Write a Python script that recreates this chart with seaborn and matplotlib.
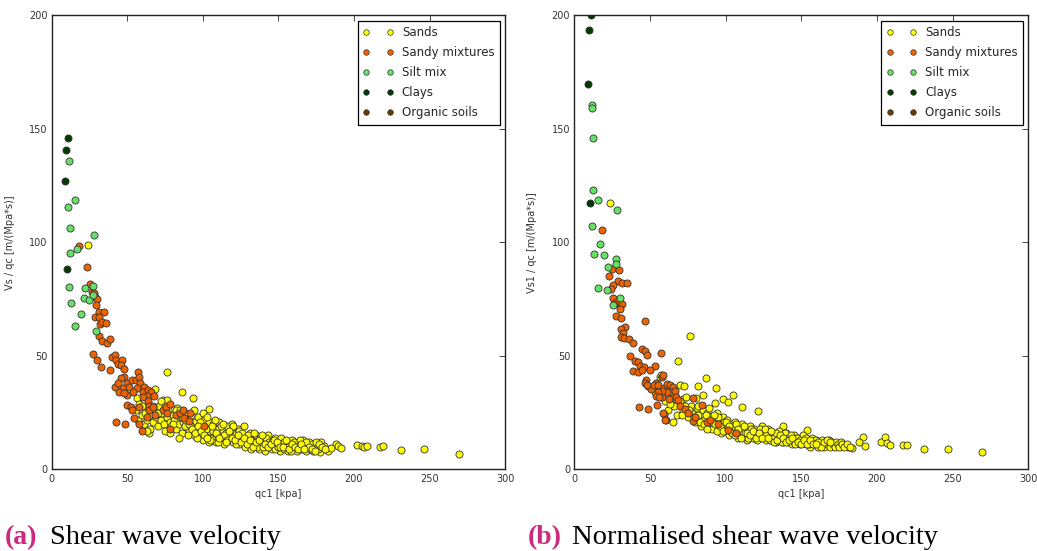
import pandas as pd
import matplotlib.pyplot as plt
import seaborn as sns
from matplotlib.lines import Line2D

# ---- panel (a): Vs / qc ----
a_sands = [(23.8, 98.7), (76, 42.9), (86.5, 34.3), (93.3, 31.4), (104, 26.5), (68.3, 35.3),
           (56.6, 31.4), (64.5, 16), (73.9, 30.7), (76, 30.4),
           (188.3, 11.4), (189.6, 10.4), (191.3, 9.4), (202, 10.7), (205, 10.3), (206.7, 10),
           (208.3, 10.3), (217, 9.7), (219.3, 10.3), (231.1, 8.4), (246.4, 8.8), (269.2, 7),
           (182.8, 8.2), (184.6, 9.6), (178, 12.1), (180, 10.4), (177.7, 7.5),
           (56, 26), (57, 22), (58, 29), (60, 24), (61, 20), (62, 25), (63, 22), (64, 27), (65, 18),
           (66, 24), (67, 21), (68, 26), (69, 23), (70, 19), (71, 28), (72, 22), (73, 25), (74, 20),
           (75, 17), (76, 23), (77, 26), (78, 21), (79, 19), (80, 24), (81, 22), (82, 18), (83, 27),
           (84, 20), (85, 23), (86, 16), (87, 21), (88, 25), (89, 19), (90, 22), (91, 17), (92, 24),
           (93, 20), (94, 15), (95, 21), (96, 18), (97, 23), (98, 16), (99, 20), (100, 13), (100, 18),
           (101, 22), (102, 15), (103, 19), (104, 12), (104, 21), (105, 17), (106, 14), (107, 20),
           (108, 16), (109, 12), (110, 18), (110, 15), (111, 21), (112, 13), (113, 17), (114, 11),
           (115, 16), (116, 19), (117, 13), (118, 15), (119, 20), (120, 12), (121, 16), (122, 14),
           (123, 18), (124, 11), (125, 15), (126, 13), (127, 19), (128, 10), (129, 14), (130, 12),
           (131, 16), (132, 9), (133, 13), (134, 11), (135, 15), (136, 12), (137, 9), (138, 14),
           (139, 11), (140, 13), (141, 8), (142, 12), (143, 15), (144, 10), (145, 13), (146, 9),
           (147, 11), (148, 14), (149, 10), (150, 12), (151, 8), (152, 11), (153, 13), (154, 9),
           (155, 11), (156, 8), (157, 12), (158, 10), (159, 13), (160, 9), (161, 11), (162, 8),
           (163, 12), (164, 10), (165, 9), (166, 13), (167, 11), (168, 8), (169, 10), (170, 12),
           (171, 9), (172, 11), (173, 8), (174, 10), (175, 12), (176, 9), (177, 11), (179, 10),
           (181, 9),
           (60, 28), (63, 17), (67, 28), (70, 25), (72, 30), (75, 28), (78, 16), (80, 20), (82, 26),
           (84, 14), (86, 23), (88, 19), (90, 15), (92, 19), (94, 26), (96, 14), (98, 21), (100, 25),
           (102, 18), (103, 23), (105, 13), (107, 17), (108, 22), (110, 12), (112, 19), (114, 15),
           (116, 13), (118, 17), (120, 19), (122, 11), (124, 17), (126, 16), (128, 13), (130, 15),
           (132, 13), (134, 16), (136, 10), (138, 12), (140, 10), (142, 14), (144, 12), (146, 12),
           (148, 9), (150, 10), (152, 14), (154, 12), (156, 10), (158, 8), (160, 12), (162, 10),
           (164, 13), (166, 10), (168, 12), (170, 10), (172, 9), (174, 8),
           (85, 26), (88, 22), (91, 20), (93, 18), (95, 16), (97, 19), (99, 17), (101, 15), (103, 14),
           (106, 19), (109, 16), (111, 14), (113, 20), (115, 12), (117, 17), (119, 14), (121, 13),
           (123, 15), (125, 12), (127, 14), (129, 11), (131, 13), (133, 10), (135, 12), (137, 13),
           (139, 15), (141, 11), (143, 10), (145, 11), (147, 13), (149, 12), (151, 10), (153, 10),
           (155, 13), (157, 9), (159, 11), (161, 10), (163, 9), (165, 11), (167, 9)]
a_sandy = [(18.2, 98.4), (23.1, 89), (25.5, 81.9), (26.4, 78.2), (27.7, 77.8), (28.8, 76),
           (30.2, 74.9), (29.3, 72.4), (31.1, 69.2), (34.6, 69.2), (28.4, 67), (31.1, 67),
           (31.9, 63.9), (33.3, 65), (35.9, 64.3), (31.1, 58.9), (33.3, 56.4), (36.6, 55.8),
           (38.5, 57.5), (27.1, 50.8), (30.1, 48), (32.4, 45.1), (38.5, 43.7), (39.8, 49.5),
           (41.8, 50.3), (42.5, 48), (44, 46.5), (46.8, 48), (45.7, 45.8), (47.5, 44.3),
           (47.8, 40.8), (45.6, 40.5), (41.8, 36.4), (44, 38.2), (50, 38.2), (47, 36), (50.9, 36.4),
           (53.3, 39.3), (55.5, 39.3), (57.2, 42.9), (57.9, 40.8), (58.4, 38), (56.2, 36), (54, 34),
           (49.5, 32.8), (44.7, 34), (47.7, 33.6), (61, 36.4), (60.2, 34.3), (64, 35), (66, 34),
           (62.7, 32.5), (67.4, 32.2), (60.5, 32), (50, 28.3), (52.6, 27.6), (52.9, 26.1),
           (57.8, 27.6), (63.6, 30.3), (64.5, 27.9), (64.5, 26.1), (67.3, 27.6), (68, 24.2),
           (63.2, 23.1), (54.6, 22.8), (42.5, 21), (48.4, 20), (57.8, 20), (59.7, 16.8),
           (73.3, 26.3), (75.8, 27.6), (78.2, 28.8), (76.2, 25), (82.3, 24.2), (85, 25),
           (86.8, 26.3), (87.2, 22.5), (78.5, 18), (90.9, 21.3), (101, 19.2), (91.3, 24.9)]
a_silt = [(11.6, 135.8), (15.6, 118.5), (11, 115.7), (12.3, 106.3), (27.8, 103.2), (12.3, 95.2),
          (16.9, 96.9), (11.6, 80.4), (13, 73.3), (19.6, 68.3), (15.6, 63.4), (22.2, 79.9),
          (27.1, 80.9), (21.6, 75.6), (24.9, 74.6), (29.5, 61.2), (27, 77)]
a_clays = [(11, 145.8), (9.5, 140.8), (8.8, 127), (10.1, 88.1)]

# ---- panel (b): Vs1 / qc ----
b_sands = [(23.8, 117.2), (76.3, 58.6), (68.7, 47.7), (56.8, 40.8), (69.9, 37.4), (63.3, 34.4),
           (87.2, 40.5), (93.7, 35.7), (81.8, 36.7), (104.7, 32.7), (98.5, 31), (101.8, 29.5),
           (85, 33), (72.3, 36.7), (93.2, 29.2), (110.6, 27.4), (121.2, 25.8), (57.1, 41.7),
           (53.1, 33.9), (65, 20.8), (80.7, 31.6), (72, 31), (83, 27.8),
           (190.6, 14.4), (191.9, 10.3), (188.4, 12.3), (202.5, 11.9), (205.4, 14.4), (206.8, 11.5),
           (208.5, 10.8), (217.4, 10.7), (219.7, 10.7), (231.3, 9.2), (247, 9.2), (269.7, 7.9),
           (183.3, 9.5), (181.1, 10), (154, 17.3), (137.7, 19),
           (60, 30), (62, 26), (64, 33), (66, 28), (68, 24), (70, 30), (72, 26), (74, 32), (75, 23),
           (77, 28), (78, 25), (80, 21), (81, 27), (82, 24), (84, 19), (85, 26), (86, 22), (88, 25),
           (89, 20), (90, 23), (91, 18), (92, 22), (94, 25), (95, 19), (96, 21), (97, 16), (98, 23),
           (99, 19), (100, 17), (101, 22), (102, 15), (103, 20), (104, 18), (105, 16), (106, 21),
           (107, 17), (108, 14), (109, 19), (110, 16), (111, 20), (112, 15), (113, 18), (114, 13),
           (115, 17), (116, 19), (117, 15), (118, 14), (119, 18), (120, 16), (121, 13), (122, 17),
           (123, 15), (124, 19), (125, 14), (126, 16), (127, 13), (128, 18), (129, 15), (130, 13),
           (131, 16), (132, 14), (133, 12), (134, 15), (135, 17), (136, 13), (137, 15), (138, 12),
           (139, 14), (140, 16), (141, 12), (142, 14), (143, 13), (144, 11), (145, 15), (146, 13),
           (147, 12), (148, 14), (149, 11), (150, 13), (151, 15), (152, 12), (153, 11), (154, 13),
           (155, 12), (156, 10), (157, 14), (158, 12), (159, 11), (160, 13), (161, 10), (162, 12),
           (163, 11), (164, 13), (165, 10), (166, 12), (167, 11), (168, 13), (169, 10), (170, 12),
           (171, 11), (172, 10), (173, 12), (174, 11), (175, 10), (176, 12), (177, 11), (178, 10),
           (180, 11), (182, 10),
           (63, 29), (67, 31), (71, 24), (73, 28), (76, 26), (79, 23), (83, 21), (87, 24), (89, 27),
           (91, 21), (93, 20), (95, 23), (97, 18), (99, 21), (101, 18), (103, 17), (105, 19),
           (107, 20), (109, 15), (111, 17), (113, 16), (115, 14), (117, 18), (119, 16), (121, 15),
           (123, 18), (125, 16), (127, 15), (129, 13), (131, 14), (133, 16), (135, 13), (137, 12),
           (139, 16), (141, 14), (143, 15), (145, 12), (147, 14), (149, 13), (151, 12), (153, 14),
           (155, 11), (157, 12), (159, 13), (161, 12), (163, 10), (165, 12), (167, 13), (169, 12),
           (82, 28), (86, 20), (88, 18), (92, 24), (94, 17), (96, 19), (98, 17), (100, 21),
           (102, 19), (104, 16), (106, 15), (108, 18), (110, 14), (112, 19), (114, 16), (116, 15),
           (118, 17), (120, 14), (122, 16), (124, 14), (126, 18), (128, 14), (130, 17), (132, 12),
           (134, 13), (136, 15), (138, 14), (140, 12), (142, 13), (144, 14), (146, 11), (148, 12),
           (150, 11), (152, 13), (154, 11), (156, 13), (158, 11), (160, 11)]
b_sandy = [(18.5, 105.4), (24.7, 88.1), (29.3, 87.7), (23.1, 85.4), (28.7, 82.8), (31.7, 82.2),
           (34.6, 82.2), (25.8, 81.3), (24.1, 79.6), (25.8, 75.6), (27.8, 73.8), (26.3, 72.7),
           (31.4, 72.7), (30.4, 70.9), (27.3, 67.7), (30.7, 66.7), (46.7, 65.6), (33.3, 62.6),
           (30.7, 61.7), (32.4, 60.3), (30.7, 58.3), (32.9, 58.1), (36.2, 57.3), (39, 55.8),
           (44.9, 52.9), (46.4, 52), (48.2, 50.5), (36.8, 49.9), (57.5, 51.1), (40.1, 47.7),
           (42.3, 47.3), (43.2, 45.4), (46, 45.1), (53.3, 45.5), (38.8, 43.3), (42, 43),
           (44.7, 43.7), (50.2, 43.7), (47.4, 39.6), (46.7, 37.9), (48.7, 36.8), (50.4, 35.4),
           (47.8, 37.4), (53.9, 37.9), (57.8, 40.8), (58.9, 41.7), (52.8, 37.2), (55.6, 37.4),
           (59.5, 36), (58, 32), (61.2, 37.6), (63.2, 37), (65, 36.2), (64.1, 34.3), (61.2, 34.3),
           (58.2, 34.7), (66.8, 34.7), (55, 34.3), (53.9, 32.2), (56.3, 31.7), (62.6, 31.1),
           (67, 31.7), (68.7, 30.4), (43, 27.6), (48.9, 26.8), (54.9, 28.3), (59.3, 24.6),
           (60.4, 22), (84.6, 28.2), (58.8, 24.8), (60.1, 21.7), (78.3, 31.5), (78.3, 21.4),
           (87.9, 20.8), (106.9, 15.9), (101.8, 17.3), (70, 28), (73, 26.5), (75, 25), (80, 23),
           (90, 22), (95, 20)]
b_silt = [(11.9, 160.6), (11.5, 159.1), (12.6, 145.8), (12.6, 123.3), (15.9, 118.9), (28, 114.1),
          (11.9, 107.2), (17.2, 99.1), (13.2, 95.1), (19.8, 94.3), (27.4, 92.6), (27.4, 90.7),
          (22.5, 89), (15.9, 80), (21.8, 79), (30.2, 75.6), (25.8, 72.4)]
b_clays = [(11.2, 200), (9.9, 193.7), (9.3, 169.9), (10.6, 117.2)]

soil_types = ['Sands', 'Sandy mixtures', 'Silt mix', 'Clays', 'Organic soils']
soil_colors = ['#ffff00', '#ee6200', '#66e066', '#003a00', '#6b3a00']


def to_frame(groups):
    rows = []
    for name, pts in zip(soil_types, groups):
        for x, y in pts:
            rows.append({'qc1': x, 'v': y, 'soil': name})
    return pd.DataFrame(rows)


def draw_panel(ax, df, ylabel):
    for name, col in zip(soil_types, soil_colors):
        sub = df[df['soil'] == name]
        if len(sub) == 0:
            continue
        sns.scatterplot(data=sub, x='qc1', y='v', ax=ax, color=col, s=26,
                        edgecolor='#333333', linewidth=0.6, legend=False)
    ax.set_xlim(0, 300)
    ax.set_ylim(0, 200)
    ax.set_xticks(range(0, 301, 50))
    ax.set_yticks(range(0, 201, 50))
    ax.set_xlabel('qc1 [kpa]', fontsize=7, color='#333333')
    ax.set_ylabel(ylabel, fontsize=7, color='#333333')
    ax.tick_params(direction='in', top=True, right=True, length=4, width=0.6,
                   labelsize=7, labelcolor='#333333', pad=3)
    for sp in ax.spines.values():
        sp.set_visible(True)
        sp.set_color('#222222')
        sp.set_linewidth(1.0)
    handles = [Line2D([], [], marker='o', linestyle='none', markersize=4,
                      markerfacecolor=c, markeredgecolor='#333333', markeredgewidth=0.5)
               for c in soil_colors]
    leg = ax.legend(handles, soil_types, loc='upper right', numpoints=2, fontsize=8.5,
                    frameon=True, fancybox=False, framealpha=1, edgecolor='black',
                    borderaxespad=0.45, handlelength=2.6, handletextpad=0.7,
                    labelspacing=0.6, borderpad=0.45)
    leg.get_frame().set_linewidth(0.9)


sns.set_style('white')
fig = plt.figure(figsize=(10.37, 5.51), dpi=100)
ax_a = fig.add_axes([0.0499, 0.148, 0.4372, 0.824])
ax_b = fig.add_axes([0.5538, 0.148, 0.4378, 0.824])

draw_panel(ax_a, to_frame([a_sands, a_sandy, a_silt, a_clays, []]), 'Vs / qc [m/(Mpa*s)]')
draw_panel(ax_b, to_frame([b_sands, b_sandy, b_silt, b_clays, []]), 'Vs1 / qc [m/(Mpa*s)]')
ax_a.yaxis.set_label_coords(-0.082, 0.5)
ax_b.yaxis.set_label_coords(-0.082, 0.5)

cap_y = 0.012
pink = '#cc2a80'
cap_font = 'Liberation Serif'
fig.text(0.005, cap_y, '(a)', fontsize=20, fontweight='bold', color=pink,
         family=cap_font, va='baseline')
fig.text(0.048, cap_y, 'Shear wave velocity', fontsize=20.5, color='black',
         family=cap_font, va='baseline')
fig.text(0.509, cap_y, '(b)', fontsize=20, fontweight='bold', color=pink,
         family=cap_font, va='baseline')
fig.text(0.552, cap_y, 'Normalised shear wave velocity', fontsize=20.5, color='black',
         family=cap_font, va='baseline')

fig.savefig('out.png', dpi=100)
